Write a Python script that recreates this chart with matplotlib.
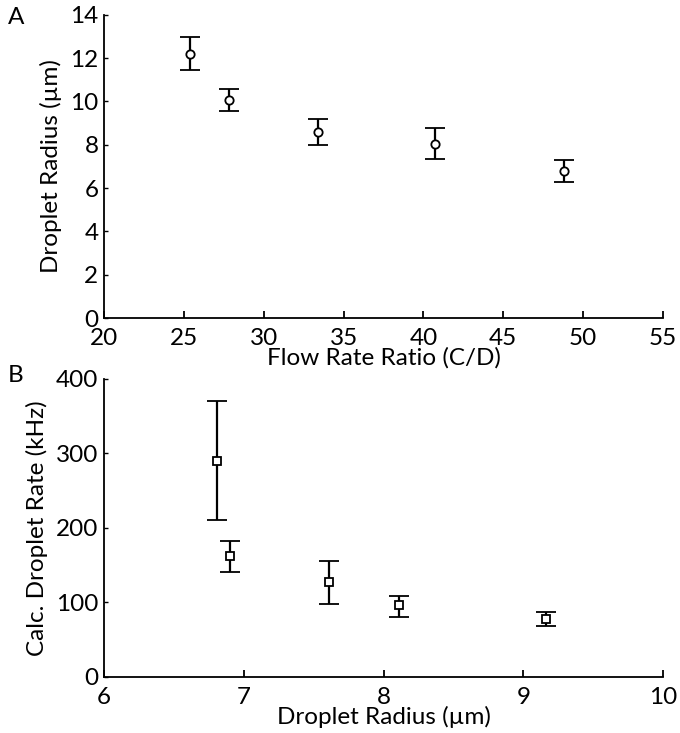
import matplotlib
matplotlib.use("Agg")
import matplotlib.pyplot as plt

# Panel A: droplet radius vs flow rate ratio
flow_ratio = [25.4, 27.8, 33.4, 40.7, 48.8]
radius_a = [12.2, 10.05, 8.6, 8.05, 6.8]
radius_lo = [11.45, 9.55, 8.0, 7.35, 6.3]
radius_hi = [12.95, 10.55, 9.2, 8.75, 7.3]

# Panel B: calculated droplet rate vs droplet radius
radius_b = [6.81, 6.90, 7.61, 8.11, 9.16]
rate = [290, 162, 127, 96, 78]
rate_lo = [211, 141, 98, 81, 68]
rate_hi = [370, 183, 156, 109, 87]

plt.rcParams["font.family"] = ["Lato", "DejaVu Sans"]
plt.rcParams["font.size"] = 17.5

fig = plt.figure(figsize=(6.8, 7.33), dpi=100)
axA = fig.add_axes([0.153, 0.566, 0.822, 0.414])
axB = fig.add_axes([0.153, 0.0764, 0.822, 0.4066])


def style(ax):
    for s in ("top", "right"):
        ax.spines[s].set_visible(False)
    for s in ("left", "bottom"):
        ax.spines[s].set_linewidth(1.3)
    ax.tick_params(axis="x", direction="in", length=5, width=1.3, pad=7)
    ax.tick_params(axis="y", direction="in", length=3, width=1.0, pad=4)


def errs(y, lo, hi):
    return [[v - l for v, l in zip(y, lo)], [h - v for v, h in zip(y, hi)]]


axA.errorbar(flow_ratio, radius_a, yerr=errs(radius_a, radius_lo, radius_hi),
             fmt="o", mfc="white", mec="black", color="black", ms=6,
             mew=1.3, elinewidth=1.6, capsize=7, capthick=1.6)
axA.set_xlim(20, 55)
axA.set_ylim(0, 14)
axA.set_xticks(range(20, 56, 5))
axA.set_yticks(range(0, 15, 2))
axA.set_xlabel("Flow Rate Ratio (C/D)", labelpad=-1)
axA.set_ylabel("Droplet Radius (µm)", labelpad=6)
style(axA)

axB.errorbar(radius_b, rate, yerr=errs(rate, rate_lo, rate_hi),
             fmt="s", mfc="white", mec="black", color="black", ms=6,
             mew=1.3, elinewidth=1.6, capsize=7, capthick=1.6)
axB.set_xlim(6, 10)
axB.set_ylim(0, 400)
axB.set_xticks(range(6, 11))
axB.set_yticks(range(0, 401, 100))
axB.set_xlabel("Droplet Radius (µm)", labelpad=-1)
axB.set_ylabel("Calc. Droplet Rate (kHz)", labelpad=6)
style(axB)

fig.text(8 / 680, 1 - 17 / 733, "A", fontsize=17.5, va="center", ha="left")
fig.text(8 / 680, 1 - 375 / 733, "B", fontsize=17.5, va="center", ha="left")

fig.savefig("out.png", dpi=100)
